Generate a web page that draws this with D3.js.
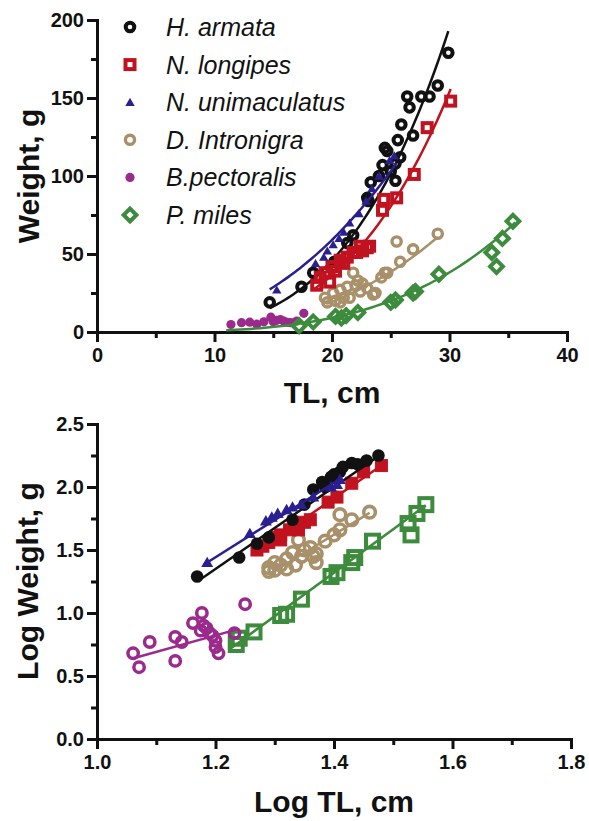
<!DOCTYPE html>
<meta charset="utf-8">
<title>length-weight</title>
<script src="https://cdn.jsdelivr.net/npm/d3@7"></script>
<style>
body { margin: 0; background: #fff; }
text { font-family: "Liberation Sans", Arial, sans-serif; fill: #111; }
.tick text { font-weight: bold; font-size: 20px; }
.axis path, .axis line { stroke: #111; stroke-width: 3px; }
.axis path { stroke-linecap: square; }
.label { font-weight: bold; font-size: 30px; }
.legend text { font-style: italic; font-size: 25px; }
.fit { fill: none; stroke-width: 2.5px; }
</style>
<body>
<script>

var species = ["H. armata", "N. longipes", "N. unimaculatus", "D. Intronigra", "B.pectoralis", "P. miles"];
var colors  = ["#111111", "#c1121f", "#2a1f8f", "#a8916a", "#9a2a8b", "#3d8b3d"];

// top panel: [TL cm, weight g]
var armataW = [[14.7,19],[17.4,29],[18.4,38],[20.2,45],[21.3,57],[21.8,62],[23.0,86],[23.1,84],[23.3,96],[24.0,100],[24.3,107],[24.5,118],[24.7,116],[25.0,103],[25.4,97],[25.4,108],[25.6,123],[25.8,112],[25.9,133],[26.4,151],[26.6,144],[26.9,126],[27.6,151],[28.3,151],[29.0,158],[29.9,179]];
var longipesW = [[18.7,30],[19.0,35],[19.4,38],[19.8,32],[20.0,42],[20.3,39],[20.7,46],[21.0,44],[21.3,48],[21.8,51],[22.1,51],[22.4,55],[22.6,52],[23.0,54],[23.2,55],[24.3,78],[24.4,85],[25.5,86],[27.0,101],[28.1,131],[30.1,148]];
var unimacW = [[15.3,27],[18.6,44],[19.3,48],[19.6,52],[20.1,56],[20.6,60],[21.0,64],[21.5,70],[22.3,76],[22.9,84],[23.4,92],[24.0,100],[24.9,110],[25.3,113]];
var intronigraW = [[19.4,22],[19.6,19],[20.1,25],[20.3,20],[20.7,27],[20.7,19],[21.0,22],[21.3,29],[21.5,22],[21.8,38],[22.0,30],[22.2,33],[22.4,26],[22.6,31],[23.0,28],[23.5,24],[23.7,25],[24.2,35],[24.5,38],[24.7,38],[25.5,58],[25.8,45],[26.9,53],[29.0,63]];
var pectoralisW = [[11.4,4.8],[12.3,6.0],[13.0,6.3],[13.6,5.0],[14.2,6.5],[14.8,9.5],[15.0,6.5],[15.3,7.5],[15.6,8.0],[15.9,7.0],[16.2,6.2],[16.5,6.0],[17.0,7.0],[17.6,12.0]];
var milesW = [[17.2,4],[18.4,6.5],[20.3,10],[20.8,9],[21.2,10.5],[22.2,12.5],[25.0,19],[25.4,20.5],[26.9,25],[27.1,26],[29.1,37],[33.6,51],[34.0,42],[34.5,60],[35.4,71]];

// power fits W = a * TL^b : [a, b, TLmin, TLmax]
var powerFits = [[0.00104,3.57,14.7,29.9],[0.000878,3.55,18.5,30.1],[0.033,2.5,14.7,25.5],[0.00197,3.07,19.5,29.0],null,[0.000218,3.55,11.0,35.6]];

// bottom panel: [log TL, log W]
var armataL = [[1.169,1.29],[1.24,1.44],[1.27,1.55],[1.29,1.60],[1.33,1.74],[1.35,1.86],[1.365,1.98],[1.38,2.04],[1.385,2.00],[1.395,2.08],[1.40,2.10],[1.41,2.12],[1.415,2.16],[1.43,2.19],[1.44,2.18],[1.455,2.21],[1.475,2.25]];
var longipesL = [[1.27,1.50],[1.28,1.53],[1.29,1.56],[1.30,1.60],[1.31,1.58],[1.31,1.62],[1.325,1.66],[1.34,1.66],[1.34,1.70],[1.35,1.72],[1.36,1.74],[1.39,1.88],[1.405,1.92],[1.43,2.03],[1.45,2.12],[1.48,2.17]];
var unimacL = [[1.186,1.40],[1.258,1.63],[1.285,1.73],[1.295,1.76],[1.305,1.79],[1.32,1.82],[1.33,1.84],[1.345,1.86],[1.365,1.92],[1.395,2.00],[1.405,2.02],[1.41,2.06]];
var intronigraL = [[1.29,1.33],[1.29,1.36],[1.30,1.34],[1.30,1.40],[1.31,1.38],[1.32,1.35],[1.32,1.43],[1.33,1.48],[1.335,1.38],[1.34,1.58],[1.345,1.45],[1.35,1.50],[1.36,1.52],[1.365,1.45],[1.37,1.40],[1.37,1.47],[1.385,1.57],[1.40,1.62],[1.41,1.66],[1.41,1.78],[1.43,1.74],[1.46,1.80]];
var pectoralisL = [[1.061,0.68],[1.071,0.57],[1.089,0.77],[1.132,0.81],[1.132,0.62],[1.143,0.77],[1.162,0.92],[1.175,0.86],[1.177,1.00],[1.18,0.90],[1.185,0.88],[1.19,0.84],[1.195,0.82],[1.20,0.78],[1.20,0.73],[1.205,0.68],[1.232,0.84],[1.25,1.07]];
var milesL = [[1.235,0.75],[1.24,0.80],[1.265,0.85],[1.31,0.98],[1.32,0.99],[1.345,1.11],[1.395,1.29],[1.405,1.32],[1.43,1.40],[1.435,1.44],[1.465,1.57],[1.525,1.71],[1.53,1.62],[1.54,1.79],[1.555,1.86]];

// linear fits log W = b * logTL + c : [b, c, xmin, xmax]
var linFits = [[3.25,-2.55,1.17,1.475],[3.24,-2.625,1.27,1.48],[2.96,-2.11,1.18,1.41],[2.88,-2.41,1.29,1.46],[1.31,-0.75,1.06,1.235],[3.45,-3.51,1.225,1.555]];

var topData = [armataW, longipesW, unimacW, intronigraW, pectoralisW, milesW];
var botData = [armataL, longipesL, unimacL, intronigraL, pectoralisL, milesL];

var topStyle = [
  {shape:"ring", r:4.3, sw:4},
  {shape:"square", s:9, sw:4},
  {shape:"tri", area:38},
  {shape:"ring", r:4.6, sw:3.4},
  {shape:"dot", r:4.6},
  {shape:"diamond", s:9, sw:4}
];
var botStyle = [
  {shape:"dot", r:6.3},
  {shape:"squareF", s:12},
  {shape:"tri", area:62},
  {shape:"ring", r:5.8, sw:3.6},
  {shape:"ring", r:5.2, sw:3.5},
  {shape:"square", s:13, sw:4}
];

var svg = d3.select("body").append("svg")
    .attr("width", 589)
    .attr("height", 821);

function mark(g, st, color, cx, cy) {
  if (st.shape == "ring" || st.shape == "dot") {
    g.append("circle").attr("cx", cx).attr("cy", cy).attr("r", st.r)
      .attr("fill", st.shape == "dot" ? color : "none")
      .attr("stroke", st.shape == "dot" ? "none" : color)
      .attr("stroke-width", st.sw || 0);
  } else if (st.shape == "tri") {
    g.append("path").attr("d", d3.symbol(d3.symbolTriangle, st.area)())
      .attr("transform", "translate(" + cx + "," + (cy + 1) + ")")
      .attr("fill", color);
  } else {
    var r = g.append("rect")
      .attr("x", cx - st.s / 2).attr("y", cy - st.s / 2)
      .attr("width", st.s).attr("height", st.s)
      .attr("fill", st.shape == "squareF" ? color : "none")
      .attr("stroke", color)
      .attr("stroke-width", st.sw || 1);
    if (st.shape == "diamond") r.attr("transform", "rotate(45 " + cx + " " + cy + ")");
  }
}

function axes(x, y, xMajor, xMinor, yMajor, yMinor, fmt) {
  var y0 = y.range()[0], x0 = x.range()[0];
  svg.append("g").attr("class", "axis").attr("transform", "translate(0," + y0 + ")")
    .call(d3.axisBottom(x).tickValues(xMinor).tickSize(6).tickSizeOuter(0).tickFormat(""));
  svg.append("g").attr("class", "axis").attr("transform", "translate(0," + y0 + ")")
    .call(d3.axisBottom(x).tickValues(xMajor).tickSize(10).tickSizeOuter(0).tickPadding(6).tickFormat(fmt.x));
  svg.append("g").attr("class", "axis").attr("transform", "translate(" + x0 + ",0)")
    .call(d3.axisLeft(y).tickValues(yMinor).tickSize(6).tickSizeOuter(0).tickFormat(""));
  svg.append("g").attr("class", "axis").attr("transform", "translate(" + x0 + ",0)")
    .call(d3.axisLeft(y).tickValues(yMajor).tickSize(10).tickSizeOuter(0).tickPadding(3).tickFormat(fmt.y));
}

// ---------- top panel ----------
var xT = d3.scaleLinear().domain([0, 40]).range([97, 567]);
var yT = d3.scaleLinear().domain([0, 200]).range([332, 20]);
axes(xT, yT, [0,10,20,30,40], [5,15,25,35], [0,50,100,150,200], [25,75,125,175],
  {x: d3.format("d"), y: d3.format("d")});

var topOrder = [4, 5, 3, 0, 1, 2];
var gT = svg.append("g");
topOrder.forEach(function(i) {
  var f = powerFits[i];
  if (f) {
    var pts = d3.range(f[2], f[3] + 0.001, (f[3] - f[2]) / 60).map(function(L) { return [L, f[0] * Math.pow(L, f[1])]; });
    gT.append("path").attr("class", "fit").attr("stroke", colors[i])
      .attr("d", d3.line().x(function(d) { return xT(d[0]); }).y(function(d) { return yT(d[1]); })(pts));
  }
  topData[i].forEach(function(d) { mark(gT, topStyle[i], colors[i], xT(d[0]), yT(d[1])); });
});

svg.append("text").attr("class", "label").attr("text-anchor", "middle")
  .attr("x", 332).attr("y", 403).text("TL, cm");
svg.append("text").attr("class", "label").attr("text-anchor", "middle")
  .attr("transform", "translate(39,176) rotate(-90)").text("Weight, g");

// legend
var leg = svg.append("g").attr("class", "legend");
species.forEach(function(s, i) {
  var ly = 27 + i * 37.6;
  mark(leg, topStyle[i], colors[i], 130, ly);
  leg.append("text").attr("x", 166).attr("y", ly + 9).text(s);
});

// ---------- bottom panel ----------
var xB = d3.scaleLinear().domain([1.0, 1.8]).range([97, 571]);
var yB = d3.scaleLinear().domain([0, 2.5]).range([739, 424]);
axes(xB, yB, [1.0,1.2,1.4,1.6,1.8], [1.1,1.3,1.5,1.7], [0,0.5,1.0,1.5,2.0,2.5], [0.25,0.75,1.25,1.75,2.25],
  {x: d3.format(".1f"), y: d3.format(".1f")});

var botOrder = [5, 4, 3, 1, 0, 2];
var gB = svg.append("g");
botOrder.forEach(function(i) {
  var f = linFits[i];
  gB.append("line").attr("stroke", colors[i]).attr("stroke-width", 2.5)
    .attr("x1", xB(f[2])).attr("y1", yB(f[0] * f[2] + f[1]))
    .attr("x2", xB(f[3])).attr("y2", yB(f[0] * f[3] + f[1]));
  botData[i].forEach(function(d) { mark(gB, botStyle[i], colors[i], xB(d[0]), yB(d[1])); });
});

svg.append("text").attr("class", "label").attr("text-anchor", "middle")
  .attr("x", 334).attr("y", 812).text("Log TL, cm");
svg.append("text").attr("class", "label").attr("text-anchor", "middle")
  .attr("transform", "translate(38,581) rotate(-90)").text("Log Weight, g");

</script>
</body>
